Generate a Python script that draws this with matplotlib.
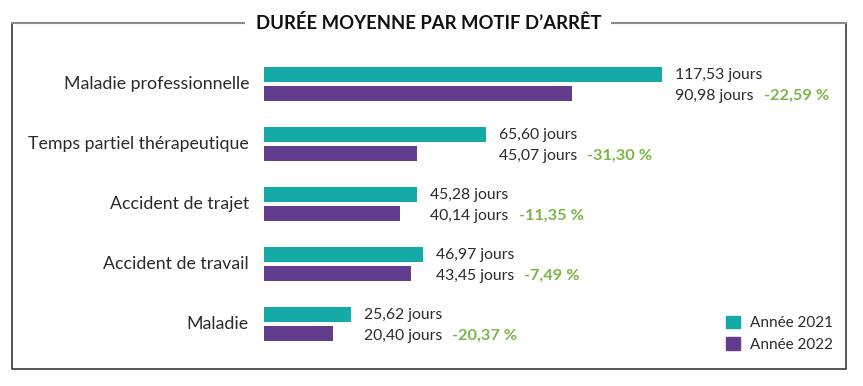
import matplotlib.pyplot as plt
from matplotlib.lines import Line2D
from matplotlib.patches import Patch

# Data
categories = ["Maladie professionnelle", "Temps partiel thérapeutique", "Accident de trajet",
              "Accident de travail", "Maladie"]
jours_2021 = [117.53, 65.60, 45.28, 46.97, 25.62]
jours_2022 = [90.98, 45.07, 40.14, 43.45, 20.40]
variation = ["-22,59 %", "-31,30 %", "-11,35 %", "-7,49 %", "-20,37 %"]

teal = "#16aaa7"
purple = "#623d8e"
green = "#7ab648"
text_col = "#2b2b2b"

plt.rcParams["font.family"] = ["Lato", "DejaVu Sans"]

W, H = 863, 386
fig = plt.figure(figsize=(W / 100, H / 100), dpi=100)

# axes placed in pixel terms
left, right, top, bottom = 264, 846, 40, 360
ax = fig.add_axes([left / W, 1 - bottom / H, (right - left) / W, (bottom - top) / H])
ax.set_xlim(0, (right - left) / 3.387)
ax.set_ylim(4.6, -0.733)
ax.axis("off")

h = 0.25
off = 0.165
ys = list(range(len(categories)))
ax.barh([y - off for y in ys], jours_2021, height=h, color=teal, label="Année 2021")
ax.barh([y + off for y in ys], jours_2022, height=h, color=purple, label="Année 2022")


def fr(v):
    return f"{v:.2f}".replace(".", ",") + " jours"


for y, cat, a, b, pct in zip(ys, categories, jours_2021, jours_2022, variation):
    ax.annotate(cat, xy=(0, y), xytext=(-15, 0), textcoords="offset pixels",
                ha="right", va="center", fontsize=12.8, color=text_col)
    ax.annotate(fr(a), xy=(a, y - off), xytext=(13, -1), textcoords="offset pixels",
                ha="left", va="center", fontsize=11.3, color=text_col)
    t = ax.annotate(fr(b), xy=(a, y + off), xytext=(13, -2), textcoords="offset pixels",
                    ha="left", va="center", fontsize=11.3, color=text_col)
    ax.annotate(pct, xy=(1, 0.5), xycoords=t, xytext=(10, 0), textcoords="offset pixels",
                ha="left", va="center", fontsize=11.8, color=green, fontweight="bold")

handles = [Patch(color=teal), Patch(color=purple)]
fig.legend(handles, ["Année 2021", "Année 2022"], loc="upper left",
           bbox_to_anchor=(712 / W, 1 - 302 / H), frameon=False, fontsize=11,
           handlelength=0.9, handleheight=0.9, handletextpad=0.7, labelspacing=0.45,
           labelcolor=text_col)

# frame with title cut into the top edge
fx = lambda px: px / W
fy = lambda py: 1 - py / H
fig.add_artist(Line2D([fx(12), fx(12), fx(846), fx(846)], [fy(22.5), fy(369), fy(369), fy(22.5)],
                      color="#3a3a3a", lw=1.2))
fig.add_artist(Line2D([fx(12), fx(244)], [fy(22.5), fy(22.5)], color="#8a8a8a", lw=1.5))
fig.add_artist(Line2D([fx(612), fx(846)], [fy(22.5), fy(22.5)], color="#8a8a8a", lw=1.5))
fig.text(fx(429), fy(23), "DURÉE MOYENNE PAR MOTIF D’ARRÊT", ha="center", va="center",
         fontsize=13.3, fontweight="bold", color="#111111")

fig.savefig("out.png", dpi=100, facecolor="white")
